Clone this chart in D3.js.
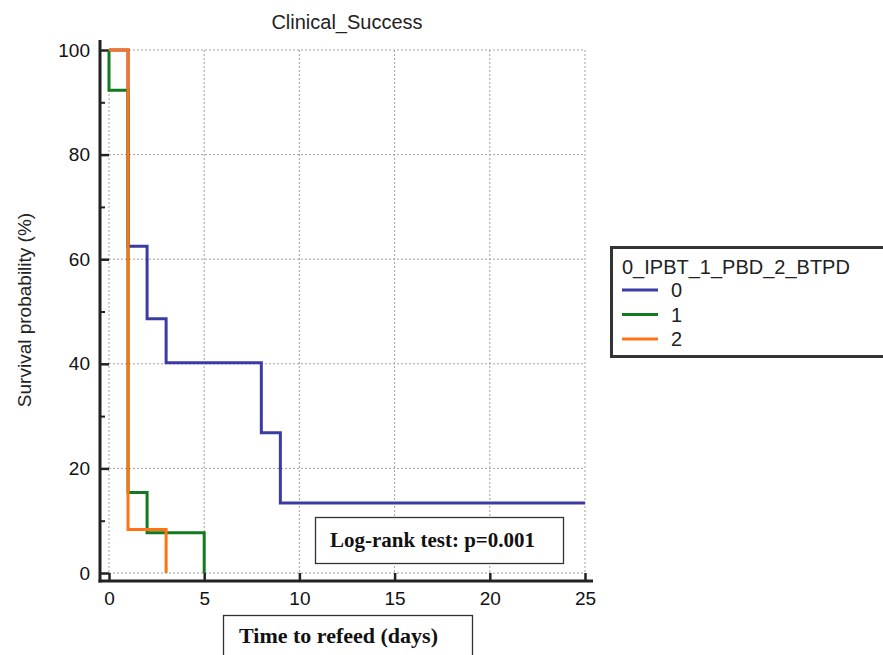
<!DOCTYPE html>
<html lang="en">
<head>
    <meta charset="UTF-8">
    <title>Clinical_Success</title>
    <script src="https://cdn.jsdelivr.net/npm/d3@7"></script>
    <style>
        body { margin: 0; background: #fff; }
        svg { display: block; }
        .sans { font-family: Arial, "Liberation Sans", sans-serif; }
        .serif { font-family: "Liberation Serif", "Times New Roman", serif; font-weight: bold; }
    </style>
</head>
<body>
    <svg width="883" height="655"></svg>

    <script>
        // Kaplan-Meier steps (time in days, survival %)
        const times0 = [0, 1, 2, 3, 8, 9, 25];
        const surv0 = [100, 62.5, 48.6, 40.2, 26.8, 13.4, 13.4];
        const times1 = [0, 0, 1, 2, 5];
        const surv1 = [100, 92.3, 15.4, 7.7, 0];
        const times2 = [0, 1, 3];
        const surv2 = [100, 8.3, 0];

        const groups = ["0", "1", "2"];
        const colors = ["#3b3ba6", "#117a1f", "#ff7314"];

        const xTicks = [0, 5, 10, 15, 20, 25];
        const yTicks = [0, 20, 40, 60, 80, 100];
        const yMinor = [10, 30, 50, 70, 90];

        const title = "Clinical_Success";
        const yTitle = "Survival probability (%)";
        const xTitle = "Time to refeed (days)";
        const legendTitle = "0_IPBT_1_PBD_2_BTPD";
        const testText = "Log-rank test: p=0.001";

        const svg = d3.select("svg");

        const x = d3.scaleLinear().domain([0, 25]).range([109, 585]);
        const y = d3.scaleLinear().domain([0, 100]).range([573, 50]);

        // dotted grid
        const grid = svg.append("g")
            .attr("stroke", "#a0a0a0")
            .attr("stroke-width", 1)
            .attr("stroke-dasharray", "2,2");
        grid.selectAll(".gx").data(xTicks).enter().append("line")
            .attr("x1", d => x(d)).attr("x2", d => x(d))
            .attr("y1", y(100)).attr("y2", y(0));
        grid.selectAll(".gy").data(yTicks).enter().append("line")
            .attr("x1", x(0)).attr("x2", x(25))
            .attr("y1", d => y(d)).attr("y2", d => y(d));

        // y axis (offset to the left, ticks pointing inwards)
        const yAxisX = 100;
        const yAxis = svg.append("g")
            .attr("class", "sans")
            .attr("transform", `translate(${yAxisX},0)`)
            .call(d3.axisLeft(y).tickValues(yTicks).tickSizeInner(-9).tickSizeOuter(0).tickPadding(10));
        yAxis.select(".domain").remove();
        yAxis.selectAll("text").attr("font-size", 19).attr("fill", "#111");
        yAxis.selectAll("line").attr("stroke", "#222").attr("stroke-width", 2.5);

        const yAxisMinor = svg.append("g")
            .attr("transform", `translate(${yAxisX},0)`)
            .call(d3.axisLeft(y).tickValues(yMinor).tickSizeInner(-5).tickSizeOuter(0).tickFormat(""));
        yAxisMinor.select(".domain").remove();
        yAxisMinor.selectAll("line").attr("stroke", "#222").attr("stroke-width", 2);

        // x axis
        const xAxisY = 581;
        const xAxis = svg.append("g")
            .attr("class", "sans")
            .attr("transform", `translate(0,${xAxisY})`)
            .call(d3.axisBottom(x).tickValues(xTicks).tickSizeInner(-8).tickSizeOuter(0).tickPadding(11));
        xAxis.select(".domain").remove();
        xAxis.selectAll("text").attr("font-size", 19).attr("fill", "#111");
        xAxis.selectAll("line").attr("stroke", "#222").attr("stroke-width", 2.5);

        // axis lines
        svg.append("line")
            .attr("x1", yAxisX).attr("x2", yAxisX)
            .attr("y1", y(100) - 10).attr("y2", xAxisY + 1.5)
            .attr("stroke", "#222").attr("stroke-width", 3);
        svg.append("line")
            .attr("x1", yAxisX - 1.5).attr("x2", x(25) + 8)
            .attr("y1", xAxisY).attr("y2", xAxisY)
            .attr("stroke", "#222").attr("stroke-width", 3);

        // survival curves
        const series = [
            d3.zip(times0, surv0),
            d3.zip(times1, surv1),
            d3.zip(times2, surv2)
        ];
        const line = d3.line()
            .x(d => x(d[0]))
            .y(d => y(d[1]))
            .curve(d3.curveStepAfter);

        svg.append("g").selectAll("path")
            .data(series)
            .enter()
            .append("path")
            .attr("d", line)
            .attr("fill", "none")
            .attr("stroke", (d, i) => colors[i])
            .attr("stroke-width", 3)
            .attr("stroke-linejoin", "miter");

        // title
        svg.append("text")
            .attr("class", "sans")
            .attr("x", (x(0) + x(25)) / 2)
            .attr("y", 29)
            .attr("text-anchor", "middle")
            .attr("font-size", 20)
            .attr("fill", "#222")
            .text(title);

        // y title
        svg.append("text")
            .attr("class", "sans")
            .attr("transform", "translate(31,310) rotate(-90)")
            .attr("text-anchor", "middle")
            .attr("font-size", 19)
            .attr("fill", "#222")
            .text(yTitle);

        // legend
        const legend = svg.append("g").attr("class", "sans");
        legend.append("rect")
            .attr("x", 611.5).attr("y", 247.5)
            .attr("width", 290).attr("height", 109)
            .attr("fill", "#fff")
            .attr("stroke", "#333")
            .attr("stroke-width", 3);
        legend.append("text")
            .attr("x", 622).attr("y", 274)
            .attr("font-size", 20)
            .attr("fill", "#222")
            .text(legendTitle);
        const items = legend.selectAll(".item")
            .data(groups)
            .enter()
            .append("g")
            .attr("transform", (d, i) => `translate(0,${290 + i * 24.5})`);
        items.append("line")
            .attr("x1", 622).attr("x2", 658)
            .attr("stroke", (d, i) => colors[i])
            .attr("stroke-width", 3);
        items.append("text")
            .attr("x", 671).attr("y", 7)
            .attr("font-size", 20)
            .attr("fill", "#222")
            .text(d => d);

        // log-rank box
        svg.append("rect")
            .attr("x", 315.5).attr("y", 517.5)
            .attr("width", 248).attr("height", 46)
            .attr("fill", "#fff")
            .attr("stroke", "#333")
            .attr("stroke-width", 1.3);
        svg.append("text")
            .attr("class", "serif")
            .attr("x", 330).attr("y", 547)
            .attr("font-size", 21)
            .attr("fill", "#111")
            .text(testText);

        // x title box
        svg.append("rect")
            .attr("x", 223.5).attr("y", 615.5)
            .attr("width", 249).attr("height", 60)
            .attr("fill", "#fff")
            .attr("stroke", "#333")
            .attr("stroke-width", 1.3);
        svg.append("text")
            .attr("class", "serif")
            .attr("x", 239).attr("y", 643)
            .attr("font-size", 22)
            .attr("fill", "#111")
            .text(xTitle);
    </script>
</body>
</html>
